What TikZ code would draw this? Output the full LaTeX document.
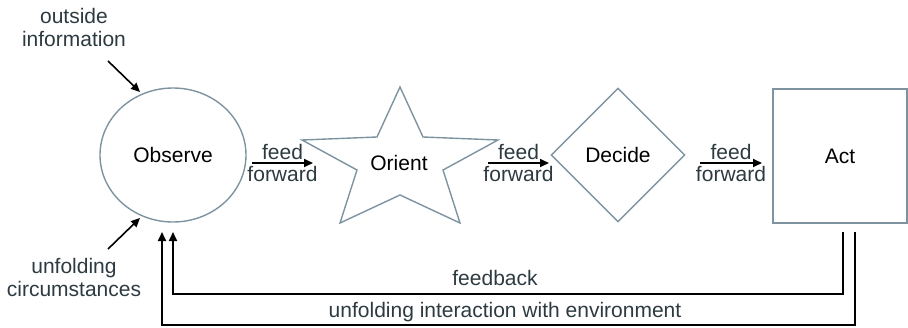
\documentclass[tikz,border=0pt]{standalone}
\usepackage{fontspec}
\setmainfont{Liberation Sans}
\usetikzlibrary{shapes.geometric,arrows.meta}
\definecolor{shapecol}{RGB}{125,148,160}
\definecolor{labcol}{RGB}{45,58,64}
\begin{document}
\begin{tikzpicture}[x=1pt,y=-1pt,
  font=\fontsize{21}{23.5}\selectfont,
  outline/.style={draw=shapecol,line width=1.4pt},
  arr/.style={draw=black,line width=1.8pt,-{Triangle[length=9pt,width=8pt]}},
  lab/.style={text=labcol,align=center,inner sep=0pt},
  ffab/.style={text=labcol,inner sep=2.5pt}]
\useasboundingbox (0,0) rectangle (908,327);
% shapes
\node[outline,ellipse,minimum width=146pt,minimum height=134pt,inner sep=0pt] (observe) at (173,155) {\raisebox{-2pt}{Observe}};
\draw[outline,line join=miter] (400,87) -- (423,137) -- (498,140) -- (443,170) -- (460,223) -- (400,195) -- (340,223) -- (357,170) -- (302,140) -- (377,137) -- cycle;
\node[inner sep=0pt] (orient) at (399,163) {Orient};
\node[outline,diamond,minimum width=134pt,minimum height=134pt,inner sep=0pt] (decide) at (618,155) {\raisebox{-2pt}{Decide}};
\node[outline,rectangle,minimum width=134pt,minimum height=134pt,inner sep=0pt] (act) at (840,156) {\raisebox{-1pt}{Act}};
% feed forward
\coordinate (ff1s) at (252,163); \coordinate (ff1e) at (313,163);
\coordinate (ff2s) at (488,163); \coordinate (ff2e) at (549,163);
\coordinate (ff3s) at (700,163); \coordinate (ff3e) at (762,163);
\draw[arr] (ff1s) -- node[ffab,above]{feed} node[ffab,below]{forward} (ff1e);
\draw[arr] (ff2s) -- node[ffab,above]{feed} node[ffab,below]{forward} (ff2e);
\draw[arr] (ff3s) -- node[ffab,above]{feed} node[ffab,below]{forward} (ff3e);
% inputs
\node[lab,anchor=north] (outside) at (74,8) {outside\\information};
\node[lab,anchor=north] (unfold) at (74,258) {unfolding\\circumstances};
\coordinate (inA) at (108,61); \coordinate (inB) at (140,92);
\coordinate (inC) at (108,249); \coordinate (inD) at (140,218);
\draw[arr,line width=1.6pt] (inA) -- (inB);
\draw[arr,line width=1.6pt] (inC) -- (inD);
% feedback loops
\coordinate (fbS) at (843,232); \coordinate (fbE) at (173,232);
\coordinate (uiS) at (855,232); \coordinate (uiE) at (162,232);
\draw[arr,line join=miter] (fbS) -- ++(0,62) -| (fbE);
\draw[arr,line join=miter] (uiS) -- ++(0,93) -| (uiE);
\node[lab,anchor=base] (fblab) at (495,285) {feedback};
\node[lab,anchor=base] (uilab) at (505,317) {unfolding interaction with environment};
\end{tikzpicture}
\end{document}
